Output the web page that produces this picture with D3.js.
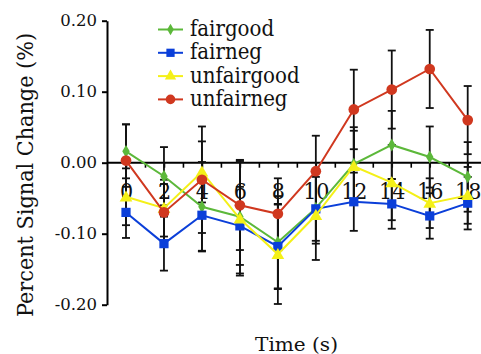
<!DOCTYPE html>
<html>
<head>
<meta charset="utf-8">
<script src="https://cdn.jsdelivr.net/npm/d3@7"></script>
<style>
  body { margin: 0; background: #fff; }
  svg { display: block; }
  svg text { font-family: "DejaVu Serif", serif; }
  svg text.cond { font-family: "DejaVu Serif Condensed", "DejaVu Serif", serif; font-stretch: condensed; }
</style>
</head>
<body>
<div id="chart"></div>
<script>
// time points (s)
var times = [0, 2, 4, 6, 8, 10, 12, 14, 16, 18];
var seriesNames = ["fairgood", "fairneg", "unfairgood", "unfairneg"];

// means
var fairgood   = [0.016, -0.019, -0.062, -0.076, -0.112, -0.064, -0.002, 0.025, 0.008, -0.020];
var fairneg    = [-0.070, -0.114, -0.074, -0.089, -0.118, -0.065, -0.055, -0.058, -0.075, -0.057];
var unfairgood = [-0.048, -0.064, -0.013, -0.079, -0.129, -0.074, -0.005, -0.028, -0.057, -0.046];
var unfairneg  = [0.003, -0.070, -0.024, -0.060, -0.072, -0.012, 0.075, 0.103, 0.132, 0.060];

// error bar half-widths
var fairgoodErr   = [0.038, 0.041, 0.063, 0.080, 0.065, 0.050, 0.052, 0.048, 0.043, 0.049];
var fairnegErr    = [0.036, 0.038, 0.050, 0.055, 0.060, 0.045, 0.041, 0.035, 0.032, 0.037];
var unfairgoodErr = [0.040, 0.040, 0.043, 0.080, 0.070, 0.063, 0.050, 0.053, 0.035, 0.040];
var unfairnegErr  = [0.051, 0.040, 0.075, 0.063, 0.050, 0.050, 0.056, 0.055, 0.055, 0.048];

var yTicks = [-0.2, -0.1, 0, 0.1, 0.2];

var W = 481, H = 354;

var svg = d3.select("#chart").append("svg")
  .attr("width", W)
  .attr("height", H);

var x = d3.scaleLinear().domain([0, 18]).range([126, 467.7]);
var y = d3.scaleLinear().domain([-0.2, 0.2]).range([304.7, 20.7]);

var series = [
  { name: "fairgood",   vals: fairgood,   err: fairgoodErr,   color: "#5cb83a", shape: d3.symbolDiamond,  size: 48 },
  { name: "fairneg",    vals: fairneg,    err: fairnegErr,    color: "#0b3fd9", shape: d3.symbolSquare,   size: 85 },
  { name: "unfairgood", vals: unfairgood, err: unfairgoodErr, color: "#f4f018", shape: d3.symbolTriangle, size: 70 },
  { name: "unfairneg",  vals: unfairneg,  err: unfairnegErr,  color: "#d0381f", shape: d3.symbolCircle,   size: 90 }
];

// y axis
var yAxis = svg.append("g")
  .attr("transform", "translate(107,0)")
  .call(d3.axisLeft(y).tickValues(yTicks).tickSize(5).tickSizeOuter(0)
    .tickFormat(function(d){ return d.toFixed(2); }));
yAxis.attr("font-family", null);
yAxis.select(".domain").attr("stroke-width", 2);
yAxis.selectAll(".tick line").attr("stroke-width", 2);
yAxis.selectAll(".tick text")
  .attr("font-size", 16.5)
  .attr("fill", "#111")
  .attr("x", -10);

// x axis at zero
var xAxis = svg.append("g")
  .attr("transform", "translate(0," + y(0) + ")")
  .call(d3.axisBottom(x).tickValues(d3.range(0, 19)).tickSize(5).tickPadding(15)
    .tickFormat(function(d){ return d % 2 ? "" : d; }));
xAxis.attr("font-family", null);
xAxis.select(".domain").remove();
xAxis.append("line")
  .attr("x1", 107).attr("x2", W)
  .attr("stroke", "#000").attr("stroke-width", 2);
xAxis.selectAll(".tick line").attr("stroke-width", 1.6);
xAxis.selectAll(".tick text")
  .attr("class", "cond")
  .attr("font-size", 23)
  .attr("fill", "#111");

// error bars
var errG = svg.append("g");
series.forEach(function(s){
  times.forEach(function(t, i){
    var cx = x(t), lo = y(s.vals[i] - s.err[i]), hi = y(s.vals[i] + s.err[i]);
    errG.append("line").attr("x1", cx).attr("x2", cx).attr("y1", lo).attr("y2", hi)
      .attr("stroke", "#111").attr("stroke-width", 1.8);
    [lo, hi].forEach(function(yy){
      errG.append("line").attr("x1", cx - 4).attr("x2", cx + 4).attr("y1", yy).attr("y2", yy)
        .attr("stroke", "#111").attr("stroke-width", 1.8);
    });
  });
});

// lines and markers
var line = d3.line()
  .x(function(d){ return x(d[0]); })
  .y(function(d){ return y(d[1]); });

series.forEach(function(s){
  var pts = times.map(function(t, i){ return [t, s.vals[i]]; });
  svg.append("path")
    .attr("d", line(pts))
    .attr("fill", "none")
    .attr("stroke", s.color)
    .attr("stroke-width", 2);
  svg.selectAll(null)
    .data(pts)
    .enter()
    .append("path")
    .attr("d", d3.symbol().type(s.shape).size(s.size))
    .attr("transform", function(d){
      return "translate(" + x(d[0]) + "," + (y(d[1]) + (s.shape === d3.symbolTriangle ? 1 : 0)) + ")";
    })
    .attr("fill", s.color);
});

// legend
var legend = svg.append("g");
series.forEach(function(s, i){
  var ly = 29.5 + i * 23.3;
  legend.append("line")
    .attr("x1", 158).attr("x2", 183).attr("y1", ly).attr("y2", ly)
    .attr("stroke", s.color).attr("stroke-width", 2);
  legend.append("path")
    .attr("d", d3.symbol().type(s.shape).size(s.size * 0.8))
    .attr("transform", "translate(170.5," + ly + ")")
    .attr("fill", s.color);
  legend.append("text")
    .attr("class", "cond")
    .attr("x", 190).attr("y", ly + 6.5)
    .attr("font-size", 22)
    .attr("fill", "#111")
    .text(s.name);
});

// axis titles
svg.append("text")
  .attr("transform", "translate(33,175) rotate(-90)")
  .attr("text-anchor", "middle")
  .attr("font-size", 22)
  .attr("textLength", 284)
  .attr("lengthAdjust", "spacingAndGlyphs")
  .attr("fill", "#111")
  .text("Percent Signal Change (%)");

svg.append("text")
  .attr("x", 255).attr("y", 351)
  .attr("font-size", 19)
  .attr("textLength", 83)
  .attr("lengthAdjust", "spacingAndGlyphs")
  .attr("fill", "#111")
  .text("Time (s)");
</script>
</body>
</html>
